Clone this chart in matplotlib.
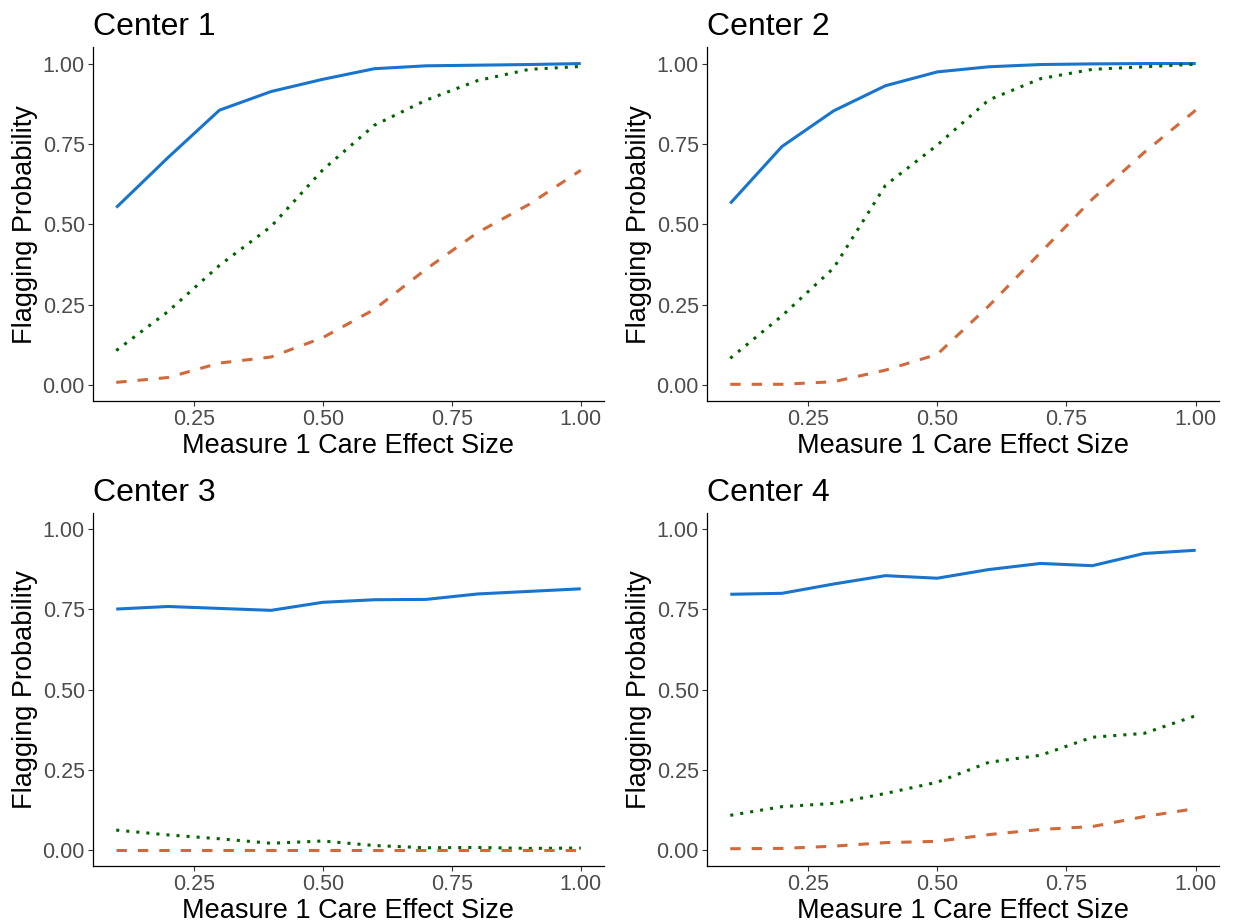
import matplotlib
matplotlib.use("Agg")
import matplotlib.pyplot as plt
from matplotlib.ticker import FormatStrFormatter

plt.rcParams['font.family'] = ['Liberation Sans', 'DejaVu Sans']

# efekt (os x)
effect = [0.1, 0.2, 0.3, 0.4, 0.5, 0.6, 0.7, 0.8, 0.9, 1.0]

centers = ["Center 1", "Center 2", "Center 3", "Center 4"]

# linia ciagla (niebieska)
solid_vals = [
    [0.552, 0.707, 0.855, 0.913, 0.951, 0.984, 0.993, 0.995, 0.997, 1.000],
    [0.565, 0.742, 0.853, 0.931, 0.974, 0.990, 0.997, 0.999, 1.000, 1.000],
    [0.751, 0.759, 0.753, 0.747, 0.772, 0.780, 0.781, 0.798, 0.806, 0.814],
    [0.797, 0.800, 0.829, 0.855, 0.847, 0.874, 0.893, 0.886, 0.924, 0.934],
]
# linia kropkowana (zielona)
dotted_vals = [
    [0.107, 0.228, 0.372, 0.493, 0.669, 0.808, 0.886, 0.947, 0.982, 0.991],
    [0.083, 0.215, 0.364, 0.621, 0.746, 0.887, 0.953, 0.982, 0.990, 0.998],
    [0.063, 0.048, 0.036, 0.022, 0.029, 0.015, 0.008, 0.009, 0.006, 0.007],
    [0.109, 0.136, 0.146, 0.177, 0.212, 0.274, 0.296, 0.352, 0.364, 0.419],
]
# linia przerywana (pomaranczowa)
dashed_vals = [
    [0.008, 0.023, 0.068, 0.087, 0.147, 0.235, 0.360, 0.474, 0.562, 0.668],
    [0.002, 0.002, 0.010, 0.046, 0.095, 0.246, 0.412, 0.578, 0.723, 0.855],
    [0.001, 0.001, 0.001, 0.001, 0.001, 0.001, 0.001, 0.001, 0.001, 0.001],
    [0.005, 0.006, 0.013, 0.024, 0.028, 0.049, 0.065, 0.074, 0.105, 0.130],
]

xticks = [0.25, 0.50, 0.75, 1.00]
yticks = [0.00, 0.25, 0.50, 0.75, 1.00]

W, H = 1235, 922
fig = plt.figure(figsize=(W / 100, H / 100), dpi=100)

# pozycje paneli w pikselach: (lewo, gora, prawo, dol)
boxes = [(93, 47.5, 604, 401), (707, 47.5, 1219, 401),
         (93, 513, 604, 866.4), (707, 513, 1219, 866.4)]

lw = 2.2
for i in range(4):
    l, t, r, b = boxes[i]
    ax = fig.add_axes([l / W, 1 - b / H, (r - l) / W, (b - t) / H])
    ax.plot(effect, solid_vals[i], color='#1874CD', lw=lw, solid_capstyle='butt')
    ax.plot(effect, dotted_vals[i], color='#006400', lw=lw, linestyle=(0, (1, 2.3)))
    ax.plot(effect, dashed_vals[i], color='#D2693A', lw=lw, linestyle=(0, (3.4, 3.6)))

    ax.set_xlim(0.055, 1.045)
    ax.set_ylim(-0.05, 1.05)
    ax.set_xticks(xticks)
    ax.set_yticks(yticks)
    ax.xaxis.set_major_formatter(FormatStrFormatter('%.2f'))
    ax.yaxis.set_major_formatter(FormatStrFormatter('%.2f'))
    ax.tick_params(labelsize=15.5, labelcolor='#4D4D4D', color='#333333',
                   length=3.6, width=0.8, pad=2.2)
    for s in ['top', 'right']:
        ax.spines[s].set_visible(False)
    for s in ['left', 'bottom']:
        ax.spines[s].set_linewidth(0.9)
        ax.spines[s].set_color('black')

    ax.set_title(centers[i], loc='left', fontsize=23, pad=9)
    ax.set_xlabel('Measure 1 Care Effect Size', fontsize=19.5, labelpad=2)
    ax.set_ylabel('Flagging Probability', fontsize=19.5, labelpad=3)

fig.savefig("out.png", dpi=100)
